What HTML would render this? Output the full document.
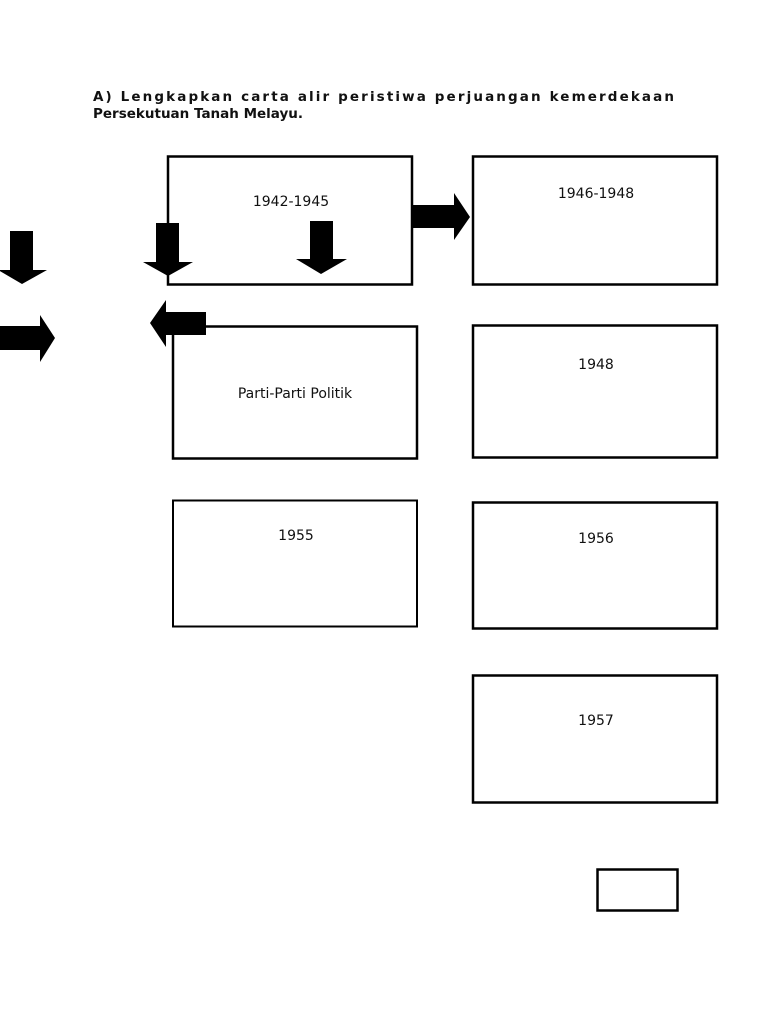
<!DOCTYPE html>
<html><head><meta charset="utf-8"><style>
html,body{margin:0;padding:0;background:#fff;}
svg{display:block;}
text{font-family:"DejaVu Sans","Liberation Sans",sans-serif;fill:#111;}
</style></head><body>
<svg width="768" height="1024" viewBox="0 0 768 1024" xmlns="http://www.w3.org/2000/svg">
<rect width="768" height="1024" fill="#fff"/>
<text x="93" y="101" font-size="13.5" font-weight="bold" textLength="581" lengthAdjust="spacing">A) Lengkapkan carta alir peristiwa perjuangan kemerdekaan</text>
<text x="93" y="118" font-size="13.5" font-weight="bold">Persekutuan Tanah Melayu.</text>
<g fill="#fff" stroke="#000" stroke-width="2.5">
<rect x="168" y="156.5" width="244" height="128"/>
<rect x="473" y="156.5" width="244" height="128"/>
<rect x="173" y="326.5" width="244" height="132"/>
<rect x="473" y="325.5" width="244" height="132"/>
<rect x="173" y="500.5" width="244" height="126" stroke-width="2"/>
<rect x="473" y="502.5" width="244" height="126"/>
<rect x="473" y="675.5" width="244" height="127"/>
<rect x="597.5" y="869.5" width="80" height="41"/>
</g>
<g font-size="14" text-anchor="middle">
<text x="291" y="206">1942-1945</text>
<text x="596" y="198">1946-1948</text>
<text x="295" y="398">Parti-Parti Politik</text>
<text x="596" y="369">1948</text>
<text x="296" y="540">1955</text>
<text x="596" y="543">1956</text>
<text x="596" y="725">1957</text>
</g>
<g fill="#000">
<polygon points="10,231 33,231 33,270 47,270 22,284 -2,270 10,270"/>
<polygon points="0,326 40,326 40,315 55,338 40,362 40,350 0,350"/>
<polygon points="156,223 179,223 179,262 193,262 168,276 143,262 156,262"/>
<polygon points="310,221 333,221 333,259 347,259 321,274 296,259 310,259"/>
<polygon points="412,205 454,205 454,193 470,217 454,240 454,228 412,228"/>
<polygon points="206,312 166,312 166,300 150,323 166,347 166,335 206,335"/>
</g>
</svg>
</body></html>
